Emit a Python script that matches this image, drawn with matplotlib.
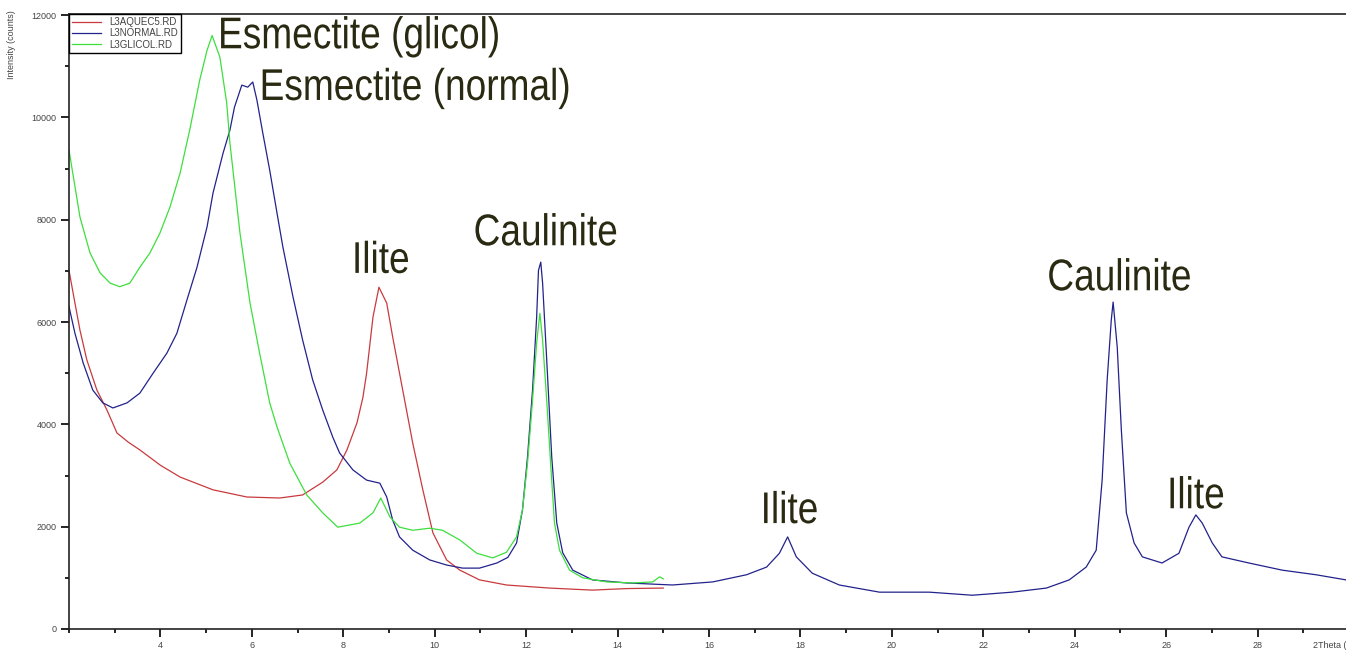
import matplotlib
matplotlib.use("Agg")
import matplotlib.pyplot as plt
from matplotlib.ticker import MultipleLocator
from matplotlib.patheffects import AbstractPathEffect
from matplotlib.transforms import Affine2D

# diffractograms, 2theta (deg) vs intensity (counts)
aquec_2t = [2.0, 2.13, 2.24, 2.39, 2.61, 2.83, 3.05, 3.3, 3.55, 4.0, 4.43, 5.15, 5.89, 6.61,
            7.11, 7.55, 7.86, 8.08, 8.30, 8.43, 8.51, 8.65, 8.78, 8.95, 9.08, 9.30, 9.52,
            9.74, 9.96, 10.26, 10.55, 10.98, 11.57, 12.51, 13.45, 14.2, 15.0]
aquec_int = [7010, 6370, 5840, 5260, 4670, 4280, 3830, 3650, 3500, 3200, 2970, 2720, 2580, 2560,
             2620, 2870, 3110, 3500, 4030, 4530, 5000, 6100, 6680, 6370, 5710, 4670, 3630,
             2720, 1880, 1350, 1150, 960, 860, 800, 760, 790, 800]

normal_2t = [2.0, 2.13, 2.31, 2.52, 2.74, 2.96, 3.27, 3.55, 3.84, 4.14, 4.36, 4.58, 4.80, 5.02,
             5.15, 5.37, 5.52, 5.62, 5.78, 5.91, 6.02, 6.11, 6.24, 6.39, 6.55, 6.68, 6.90, 7.11,
             7.33, 7.55, 7.77, 7.92, 8.21, 8.51, 8.80, 8.95, 9.08, 9.23, 9.52, 9.89, 10.26,
             10.61, 10.98, 11.36, 11.60, 11.79, 11.92, 12.03, 12.14, 12.23, 12.27, 12.32, 12.36,
             12.45, 12.56, 12.67, 12.80, 13.02, 13.45, 14.20, 15.20, 16.08, 16.82, 17.26, 17.54,
             17.72, 17.91, 18.26, 18.85, 19.73, 20.82, 21.76, 22.63, 23.38, 23.88, 24.25, 24.47,
             24.60, 24.71, 24.80, 24.84, 24.93, 25.02, 25.13, 25.30, 25.48, 25.91, 26.28, 26.50,
             26.65, 26.79, 27.01, 27.22, 27.81, 28.54, 29.28, 30.0]
normal_int = [6300, 5780, 5200, 4670, 4420, 4320, 4420, 4610, 5000, 5390, 5780, 6430, 7070, 7860,
              8520, 9300, 9750, 10200, 10630, 10590, 10690, 10340, 9690, 8970, 8130, 7460, 6490, 5650,
              4870, 4280, 3750, 3440, 3110, 2910, 2850, 2580, 2130, 1800, 1540, 1350, 1250,
              1190, 1190, 1290, 1400, 1680, 2330, 3360, 4670, 6100, 7010, 7170, 6760,
              5260, 3360, 2070, 1490, 1150, 960, 900, 860, 920, 1060, 1210, 1480,
              1800, 1410, 1090, 860, 720, 720, 660, 720, 800, 960, 1210, 1540,
              2910, 4870, 6040, 6390, 5510, 3890, 2270, 1680, 1410, 1290, 1480, 1990,
              2230, 2070, 1680, 1410, 1290, 1150, 1060, 950]

glicol_2t = [2.0, 2.24, 2.46, 2.68, 2.90, 3.11, 3.33, 3.55, 3.77, 3.99, 4.21, 4.43, 4.64, 4.86,
             5.02, 5.13, 5.30, 5.45, 5.52, 5.74, 5.96, 6.17, 6.39, 6.55, 6.83, 7.20, 7.55, 7.88,
             8.36, 8.65, 8.82, 9.02, 9.23, 9.52, 9.89, 10.17, 10.55, 10.92, 11.27, 11.57, 11.79,
             11.92, 12.03, 12.14, 12.23, 12.30, 12.36, 12.45, 12.54, 12.62, 12.73, 12.95, 13.24,
             13.76, 14.33, 14.77, 14.92, 15.0]
glicol_int = [9360, 8050, 7350, 6960, 6760, 6690, 6760, 7070, 7350, 7740, 8250, 8910, 9750, 10730,
              11310, 11600, 11180, 10280, 9500, 7740, 6370, 5390, 4420, 3950, 3240, 2620, 2270, 1990,
              2070, 2270, 2560, 2190, 1990, 1930, 1970, 1930, 1740, 1480, 1390, 1500, 1800,
              2330, 3240, 4470, 5590, 6170, 5650, 4470, 3170, 2070, 1540, 1150, 1000,
              920, 900, 920, 1020, 980]

series_names = ["L3AQUEC5.RD", "L3NORMAL.RD", "L3GLICOL.RD"]

# peak labels: text, 2theta, intensity (baseline)
peak_labels = ["Esmectite (glicol)", "Esmectite (normal)", "Ilite", "Caulinite",
               "Ilite", "Caulinite", "Ilite"]
peak_2t = [5.26, 6.17, 8.19, 10.85, 17.13, 23.40, 26.02]
peak_int = [11350, 10340, 6960, 7500, 2070, 6620, 2360]


class Condensed(AbstractPathEffect):
    """Squeeze glyphs horizontally (no narrow font installed)."""
    def __init__(self, sx):
        super().__init__()
        self.sx = sx

    def draw_path(self, renderer, gc, tpath, affine, rgbFace=None):
        renderer.draw_path(gc, tpath, Affine2D().scale(self.sx, 1) + affine, rgbFace)


plt.rcParams['font.family'] = ['Liberation Sans', 'DejaVu Sans']

W, H = 1346, 655
fig = plt.figure(figsize=(W / 100, H / 100), dpi=100, facecolor="white")
ax = fig.add_axes([69 / W, 1 - 629 / H, (1349 - 69) / W, (629 - 14) / H])

ax.plot(aquec_2t, aquec_int, color="#c83a3e", lw=0.9, label=series_names[0])
ax.plot(normal_2t, normal_int, color="#22228c", lw=0.9, label=series_names[1])
ax.plot(glicol_2t, glicol_int, color="#3ddf3d", lw=0.9, label=series_names[2])

ax.set_xlim(2, 30)
ax.set_ylim(0, 12020)
ax.xaxis.set_major_locator(MultipleLocator(2))
ax.xaxis.set_minor_locator(MultipleLocator(1))
ax.yaxis.set_major_locator(MultipleLocator(2000))
ax.yaxis.set_minor_locator(MultipleLocator(1000))
ax.set_xticks([4, 6, 8, 10, 12, 14, 16, 18, 20, 22, 24, 26, 28])
ax.tick_params(which="major", direction="out", length=6, width=1.2,
               labelsize=6.5, labelcolor="#444444", pad=3)
ax.tick_params(which="minor", direction="out", length=3, width=1.2)
for side in ["left", "bottom", "top", "right"]:
    ax.spines[side].set_linewidth(1.2)
    ax.spines[side].set_color("#222222")

for txt, x, y in zip(peak_labels, peak_2t, peak_int):
    ax.text(x, y, txt, fontsize=32, color="#2a2a12", ha="left", va="baseline",
            path_effects=[Condensed(0.834)])

leg = ax.legend(loc="upper left", bbox_to_anchor=(0, 1), borderaxespad=0,
                fontsize=7, handlelength=3, fancybox=False, framealpha=1,
                borderpad=0.3, labelspacing=0.15)
leg.get_frame().set_edgecolor("black")
leg.get_frame().set_linewidth(1.0)
for t in leg.get_texts():
    t.set_color("#444444")

fig.text(12 / W, 1 - 10 / H, "Intensity (counts)", rotation=90, fontsize=6.5,
         color="#444444", ha="center", va="top")
fig.text(1313 / W, 1 - 645 / H, "2Theta (deg)", fontsize=6.5, color="#444444",
         ha="left", va="center")

fig.savefig("out.png", dpi=100, facecolor="white")
